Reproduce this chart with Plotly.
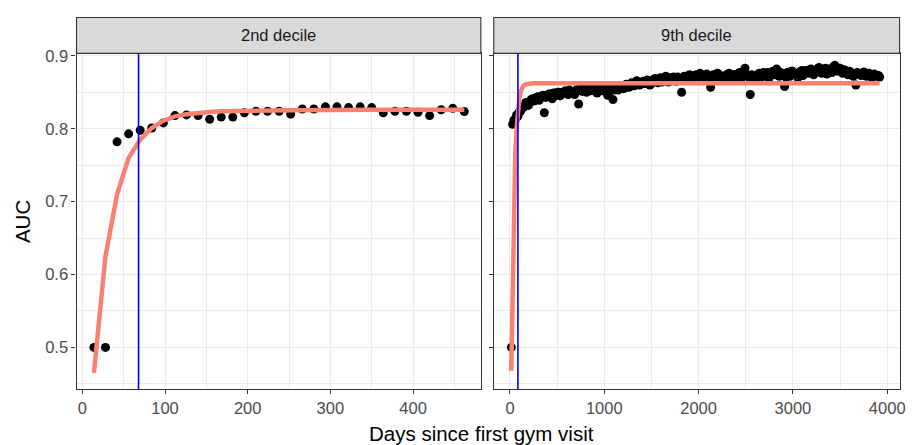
import plotly.graph_objects as go

W, H = 915, 445
OFF = 8  # page body margin offset

panel_titles = ["2nd decile", "9th decile"]

# ---- 2nd decile data ----
left_days = [14, 28, 42, 56, 70, 84, 98, 112, 126, 140, 154, 168, 182, 196, 210, 224,
             238, 252, 266, 280, 294, 308, 322, 336, 350, 364, 378, 392, 406, 420,
             434, 448, 462]
left_auc = [0.500, 0.500, 0.782, 0.793, 0.798, 0.801, 0.808, 0.818, 0.819, 0.818,
            0.813, 0.816, 0.816, 0.822, 0.824, 0.824, 0.824, 0.820, 0.827, 0.827,
            0.830, 0.830, 0.829, 0.830, 0.829, 0.822, 0.824, 0.824, 0.8225, 0.818,
            0.826, 0.828, 0.8235]
left_fit_days = [14, 28, 42, 56, 70, 84, 98, 112, 126, 140, 154, 168, 182, 196, 252, 350, 462]
left_fit_auc = [0.465, 0.625, 0.710, 0.760, 0.785, 0.801, 0.811, 0.817, 0.820, 0.822,
                0.823, 0.824, 0.8245, 0.825, 0.8255, 0.826, 0.826]
left_cutoff = [68]

# ---- 9th decile data ----
right_days_a = [14] + [28 * k for k in range(1, 141)]
right_auc_a = [0.500,
               0.806, 0.812, 0.817, 0.824, 0.829, 0.836, 0.832, 0.840, 0.838, 0.843,
               0.839, 0.845, 0.822, 0.844, 0.848, 0.841, 0.846, 0.850, 0.845, 0.849,
               0.852, 0.847, 0.851, 0.849, 0.853, 0.834, 0.852, 0.855, 0.850, 0.856,
               0.853, 0.857, 0.849, 0.855, 0.852, 0.858, 0.846, 0.854, 0.840, 0.856,
               0.853, 0.858, 0.855, 0.861, 0.857, 0.863, 0.859, 0.866, 0.860, 0.864,
               0.862, 0.867, 0.860, 0.865, 0.869, 0.863, 0.870, 0.866, 0.872, 0.864,
               0.868, 0.871, 0.865, 0.869, 0.850, 0.872, 0.867, 0.874, 0.869, 0.873,
               0.870, 0.876, 0.866, 0.873, 0.869, 0.857, 0.874, 0.868, 0.875, 0.870,
               0.872, 0.867, 0.876, 0.870, 0.874, 0.869, 0.877, 0.871, 0.883, 0.873,
               0.847, 0.872, 0.868, 0.875, 0.870, 0.877, 0.873, 0.869, 0.876, 0.874,
               0.882, 0.872, 0.876, 0.858, 0.877, 0.872, 0.879, 0.874, 0.870, 0.878,
               0.873, 0.880, 0.876, 0.882, 0.874, 0.879, 0.884, 0.876, 0.880, 0.875,
               0.882, 0.877, 0.887, 0.879, 0.883, 0.876, 0.880, 0.874, 0.878, 0.872,
               0.860, 0.876, 0.873, 0.878, 0.872, 0.876, 0.871, 0.875, 0.873, 0.871]
right_days_b = [14 + 28 * k for k in range(1, 140)]
right_auc_b = [0.812, 0.819, 0.823, 0.828, 0.831, 0.835, 0.837, 0.841, 0.839, 0.844,
               0.842, 0.846, 0.843, 0.847, 0.845, 0.849, 0.846, 0.850, 0.848, 0.851,
               0.849, 0.853, 0.850, 0.847, 0.852, 0.855, 0.851, 0.853, 0.856, 0.852,
               0.855, 0.851, 0.856, 0.853, 0.857, 0.854, 0.850, 0.856, 0.853, 0.857,
               0.855, 0.859, 0.856, 0.860, 0.858, 0.862, 0.860, 0.863, 0.861, 0.865,
               0.863, 0.866, 0.862, 0.868, 0.865, 0.867, 0.864, 0.869, 0.867, 0.870,
               0.866, 0.869, 0.871, 0.867, 0.870, 0.868, 0.872, 0.869, 0.871, 0.874,
               0.872, 0.868, 0.871, 0.875, 0.870, 0.873, 0.871, 0.876, 0.872, 0.869,
               0.873, 0.875, 0.871, 0.874, 0.872, 0.876, 0.873, 0.878, 0.874, 0.871,
               0.874, 0.870, 0.873, 0.876, 0.872, 0.874, 0.877, 0.873, 0.879, 0.875,
               0.873, 0.877, 0.874, 0.871, 0.876, 0.879, 0.875, 0.873, 0.877, 0.880,
               0.876, 0.878, 0.881, 0.877, 0.879, 0.882, 0.878, 0.880, 0.883, 0.879,
               0.881, 0.885, 0.880, 0.883, 0.878, 0.881, 0.877, 0.879, 0.876, 0.874,
               0.877, 0.874, 0.876, 0.873, 0.875, 0.872, 0.874, 0.872, 0.873]
right_fit_days = [14, 28, 42, 56, 70, 84, 98, 112, 126, 140, 168, 196, 252, 400, 1000, 2000, 3000, 3920]
right_fit_auc = [0.468, 0.600, 0.700, 0.765, 0.800, 0.825, 0.840, 0.850, 0.856, 0.859,
                 0.861, 0.862, 0.8625, 0.8625, 0.8625, 0.8625, 0.8625, 0.8625]
right_cutoff = [84]

y_ticks = [0.5, 0.6, 0.7, 0.8, 0.9]
left_x_ticks = [0, 100, 200, 300, 400]
right_x_ticks = [0, 1000, 2000, 3000, 4000]

# ---- layout geometry (target screen pixels) ----
FW, FH = W - OFF, H - OFF


def px_x(p):
    return (p - OFF) / FW


def px_y(p):
    return 1 - (p - OFF) / FH


left_dom = [px_x(77), px_x(484)]
right_dom = [px_x(497), px_x(905.5)]
y_dom = [px_y(388), px_y(47)]
strip_top = px_y(10.5)

FONT = "Liberation Sans, Arial, Helvetica, sans-serif"
GRID = "#EBEBEB"
BORDER = "#333333"
TICKC = "#4D4D4D"
FIT = "#FA8072"

fig = go.Figure()

fig.add_trace(go.Scatter(x=left_days, y=left_auc, mode="markers",
                         marker=dict(color="black", size=9), xaxis="x", yaxis="y"))
fig.add_trace(go.Scatter(x=left_fit_days, y=left_fit_auc, mode="lines",
                         line=dict(color=FIT, width=4.5), xaxis="x", yaxis="y"))
fig.add_trace(go.Scatter(x=right_days_a, y=right_auc_a, mode="markers",
                         marker=dict(color="black", size=9), xaxis="x2", yaxis="y2"))
fig.add_trace(go.Scatter(x=right_days_b, y=right_auc_b, mode="markers",
                         marker=dict(color="black", size=9), xaxis="x2", yaxis="y2"))
fig.add_trace(go.Scatter(x=right_fit_days, y=right_fit_auc, mode="lines",
                         line=dict(color=FIT, width=4.5), xaxis="x2", yaxis="y2"))

shapes = []
for xv in left_cutoff:
    shapes.append(dict(type="line", xref="x", yref="y domain", x0=xv, x1=xv, y0=0, y1=1,
                       line=dict(color="#0000FF", width=1.6), layer="above"))
for xv in right_cutoff:
    shapes.append(dict(type="line", xref="x2", yref="y2 domain", x0=xv, x1=xv, y0=0, y1=1,
                       line=dict(color="#0000FF", width=1.6), layer="above"))

annotations = []
for dom, title in zip([left_dom, right_dom], panel_titles):
    shapes.append(dict(type="rect", xref="paper", yref="paper", x0=dom[0], x1=dom[1],
                       y0=y_dom[1], y1=strip_top, fillcolor="#D9D9D9",
                       line=dict(color=BORDER, width=1.1), layer="above"))
    annotations.append(dict(text=title, xref="paper", yref="paper",
                            x=(dom[0] + dom[1]) / 2, y=(y_dom[1] + strip_top) / 2,
                            showarrow=False, xanchor="center", yanchor="middle",
                            font=dict(family=FONT, size=16.5, color="#1A1A1A")))

annotations.append(dict(text="AUC", xref="paper", yref="paper", x=px_x(22),
                        y=(y_dom[0] + y_dom[1]) / 2, textangle=-90, showarrow=False,
                        xanchor="center", yanchor="middle",
                        font=dict(family=FONT, size=20.5, color="black")))
annotations.append(dict(text="Days since first gym visit", xref="paper", yref="paper",
                        x=px_x(485), y=px_y(433), showarrow=False, xanchor="center",
                        yanchor="middle", font=dict(family=FONT, size=20.5, color="black")))

common_axis = dict(showgrid=True, gridcolor=GRID, gridwidth=1.1, zeroline=False,
                   showline=True, linecolor=BORDER, linewidth=1.3, mirror=True,
                   ticks="outside", ticklen=4, tickwidth=1.1, tickcolor=BORDER,
                   tickfont=dict(family=FONT, size=16.5, color=TICKC))

y_range = [0.443, 0.9034]

fig.update_layout(
    width=FW, height=FH,
    margin=dict(l=0, r=0, t=0, b=0),
    paper_bgcolor="white", plot_bgcolor="white",
    showlegend=False,
    xaxis=dict(domain=left_dom, range=[-7, 482], tickvals=left_x_ticks,
               ticktext=[str(v) for v in left_x_ticks], anchor="y",
               minor=dict(dtick=50, tick0=0, showgrid=True, gridcolor=GRID, gridwidth=0.6),
               **common_axis),
    yaxis=dict(domain=y_dom, range=y_range, tickvals=y_ticks,
               ticktext=[f"{v:.1f}" for v in y_ticks], anchor="x",
               minor=dict(dtick=0.05, tick0=0.45, showgrid=True, gridcolor=GRID, gridwidth=0.6),
               **common_axis),
    xaxis2=dict(domain=right_dom, range=[-172, 4131], tickvals=right_x_ticks,
                ticktext=[str(v) for v in right_x_ticks], anchor="y2",
                minor=dict(dtick=500, tick0=0, showgrid=True, gridcolor=GRID, gridwidth=0.6),
                **common_axis),
    yaxis2=dict(domain=y_dom, range=y_range, tickvals=y_ticks,
                showticklabels=False, anchor="x2",
                minor=dict(dtick=0.05, tick0=0.45, showgrid=True, gridcolor=GRID, gridwidth=0.6),
                **common_axis),
    shapes=shapes,
    annotations=annotations,
)

fig.write_html("out.html")
